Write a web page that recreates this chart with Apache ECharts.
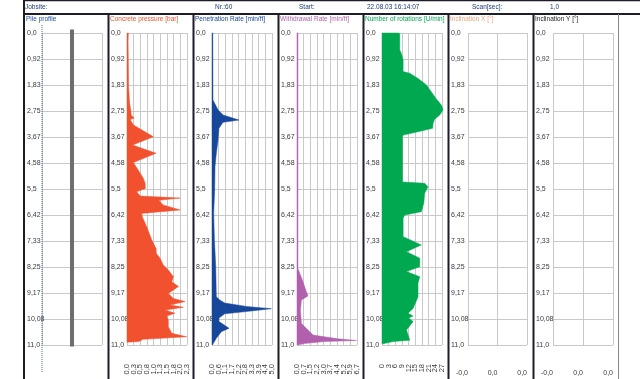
<!DOCTYPE html>
<html><head><meta charset="utf-8">
<script src="https://cdn.jsdelivr.net/npm/echarts@6/dist/echarts.min.js"></script>
<style>html,body{margin:0;padding:0;background:#fff}#c{width:640px;height:379px}</style>
</head><body><div id="c"></div><script>
// ---------- data ----------
const depthTicks = ['0,0','0,92','1,83','2,75','3,67','4,58','5,5','6,42','7,33','8,25','9,17','10,08','11,0'];
const panelTitles = ['Pile profile','Concrete pressure [bar]','Penetration Rate [min/ft]','Withdrawal Rate [min/ft]','Number of rotations [U/min]','Inclination X [°]','Inclination Y [°]'];
const headerLabels = ['Jobsite:','Nr.:60','Start:','22.08.03 16:14:07','Scan[sec]:','1,0'];

const concreteTicks = ['0,0','0,3','0,5','0,8','1,0','1,3','1,5','1,8','2,0','2,3'];
const penetrationTicks = ['0,0','0,6','1,1','1,7','2,2','2,8','3,3','3,9','4,4','5,0'];
const withdrawalTicks = ['0,0','0,7','1,5','2,2','3,0','3,7','4,4','5,2','5,9','6,7'];
const rotationTicks = ['0','3','6','9','12','15','18','21','24','27'];
const inclinationTicks = ['-0,0','0,0','0,0'];

const pileX = [1, 1];
const pileDepth = [-0.12, 11.05];

const concreteDepth = [0.0,0.3,1.0,1.9,2.5,2.71,2.9,3.0,3.05,3.24,3.66,3.95,4.24,4.57,4.8,5.1,5.3,5.48,5.6,5.75,5.82,5.9,6.06,6.24,6.36,6.5,6.83,7.1,7.3,7.6,7.77,7.94,8.18,8.36,8.59,8.77,8.94,9.06,9.18,9.36,9.47,9.59,9.67,9.77,9.88,9.98,10.12,10.36,10.59,10.71,10.8,10.88,10.9];
const concreteValue = [0.05,0.04,0.05,0.06,0.1,0.14,0.16,0.27,0.12,0.24,0.99,0.21,1.09,0.24,0.4,0.6,0.68,0.69,0.36,0.5,1.99,1.2,1.35,1.99,0.55,0.58,0.74,0.85,0.93,1.09,1.1,1.24,1.36,1.55,1.74,1.68,1.93,1.74,1.55,1.74,2.18,1.61,2.11,1.43,1.8,1.49,1.55,1.55,1.68,2.24,0.6,0.45,0.0];

const penetrationDepth = [0.0,2.36,2.48,2.71,2.89,3.07,3.15,3.36,3.77,4.24,4.71,5.54,6.36,7.3,8.24,9.3,9.41,9.52,9.64,9.72,9.82,9.9,10.05,10.17,10.41,10.53,10.76,11.0];
const penetrationValue = [0.06,0.08,0.22,0.5,0.92,2.25,0.92,0.58,0.5,0.36,0.25,0.22,0.14,0.2,0.31,0.36,0.64,1.06,2.86,4.95,2.86,1.06,0.58,0.58,1.42,0.78,0.36,0.03];

const withdrawalDepth = [0.0,8.3,8.47,8.71,9.06,9.27,9.41,9.77,10.24,10.47,10.65,10.78,10.84,10.88,10.95,11.0];
const withdrawalValue = [0.1,0.1,0.3,0.6,0.97,1.22,0.49,0.38,0.49,1.22,1.78,4.5,6.6,3.0,0.8,0.1];

const rotationDepth = [0.0,0.02,0.6,0.72,0.95,1.36,1.42,1.6,1.83,2.0,2.3,2.54,2.71,2.89,3.04,3.18,3.36,3.48,3.6,3.65,5.25,5.3,5.42,5.65,6.0,6.3,6.42,6.53,7.18,7.47,7.71,7.94,8.24,8.41,8.59,8.82,9.3,9.71,9.88,9.98,10.05,10.17,10.47,10.83,10.88,10.96];
const rotationValue = [7.2,8.0,8.0,8.7,9.5,9.5,12.5,16.2,20,21.5,24.2,26.7,27.5,26,23.7,23,22.8,16.2,9.5,9.2,9.2,19.2,20.7,19.2,18.8,17.7,10.2,9.5,9.5,17.7,11,17,17,11,17,16.2,16.2,14,11.7,14,12,14,11,12.5,5,0.5];

// ---------- styling / layout ----------
const GRID = '#c9c9c9';
const LABEL = '#3a3a3a';
const FONT = '"Liberation Sans", Arial, sans-serif';
const colors = {
  pileTitle:'#1f4ea0', concrete:'#f2512f', penetration:'#17479b', withdrawal:'#b25fae',
  rotations:'#00a84f', inclX:'#f5a27c', inclY:'#222222', header:'#1b3b7a'
};
const titleColors = [colors.pileTitle, colors.concrete, colors.penetration, colors.withdrawal, colors.rotations, colors.inclX, colors.inclY];
const borders = [24, 108.5, 193.5, 278.5, 363.5, 448.5, 533.5];
const gridLefts = [42, 127, 212, 297, 382, 468, 553];
const gridWidths = [60, 60, 60, 60, 60, 59, 60];
const TOP = 33, HEIGHT = 312;
const DMAX = 11, DINT = 11/12;

const axisDefs = [
  {min:0, max:2, interval:1, ticks:null},
  {min:0, max:2.25, interval:0.25, ticks:concreteTicks},
  {min:0, max:5, interval:5/9, ticks:penetrationTicks},
  {min:0, max:20/3, interval:20/27, ticks:withdrawalTicks},
  {min:0, max:27, interval:3, ticks:rotationTicks},
  {min:-0.02, max:0.02, interval:0.02, ticks:inclinationTicks, flat:true},
  {min:-0.02, max:0.02, interval:0.02, ticks:inclinationTicks, flat:true}
];

const grids = [], xAxes = [], yAxes = [];
for (let i = 0; i < 7; i++) {
  grids.push({left: gridLefts[i], top: TOP, width: gridWidths[i], height: HEIGHT});
  const a = axisDefs[i];
  let lab;
  if (a.ticks && a.flat) lab = {show:true, rotate:0, align:'right', verticalAlign:'middle', margin:28, fontSize:7, color:LABEL, fontFamily:FONT,
      showMinLabel:true, showMaxLabel:true, hideOverlap:false,
      formatter: (v) => a.ticks[Math.round((v - a.min) / a.interval)] };
  else lab = {show:false};   // rotated labels are drawn below at the axis tick positions
  xAxes.push({gridIndex:i, type:'value', position:'bottom', min:a.min, max:a.max, interval:a.interval,
    axisLine:{show:false}, axisTick:{show:true, inside:false, length:18, lineStyle:{color:GRID}},
    splitLine:{show:true, lineStyle:{color:GRID, width:1}}, axisLabel:lab});
  yAxes.push({gridIndex:i, type:'value', inverse:true, min:0, max:DMAX, interval:DINT,
    axisLine:{show:false}, axisTick:{show:false},
    splitLine:{show:true, lineStyle:{color:GRID, width:1}},
    axisLabel:{show:true, align:'left', margin: gridLefts[i] - (Math.floor(borders[i]) + 3), fontSize:7, color:LABEL, fontFamily:FONT,
      showMinLabel:true, showMaxLabel:true, hideOverlap:false,
      formatter:(v) => depthTicks[Math.round(v / DINT)]}});
}

function fillSeries(i, depth, value, color) {
  return {type:'custom', xAxisIndex:i, yAxisIndex:i, silent:true, clip:false, data:[[0,0]],
    renderItem: function(params, api) {
      const pts = [api.coord([0, depth[0]])];
      for (let k = 0; k < depth.length; k++) pts.push(api.coord([value[k], depth[k]]));
      pts.push(api.coord([0, depth[depth.length - 1]]));
      return {type:'polygon', shape:{points:pts}, style:{fill:color, stroke:color, lineWidth:0.5}};
    }};
}

const series = [
  {type:'line', xAxisIndex:0, yAxisIndex:0, silent:true, clip:false, symbol:'none',
   data: pileDepth.map((d, k) => [pileX[k], d]), lineStyle:{color:'#6e6e6e', width:4}},
  fillSeries(1, concreteDepth, concreteValue, colors.concrete),
  fillSeries(2, penetrationDepth, penetrationValue, colors.penetration),
  fillSeries(3, withdrawalDepth, withdrawalValue, colors.withdrawal),
  fillSeries(4, rotationDepth, rotationValue, colors.rotations)
];

// graphics: frame, header and titles (text)
const graphics = [];
const FRAME = '#1c1c2a';
graphics.push({type:'line', shape:{x1:24, y1:0.5, x2:640, y2:0.5}, style:{stroke:FRAME, lineWidth:1.5}});
graphics.push({type:'line', shape:{x1:24, y1:14, x2:640, y2:14}, style:{stroke:FRAME, lineWidth:2}});
graphics.push({type:'line', shape:{x1:24, y1:0, x2:24, y2:379}, style:{stroke:FRAME, lineWidth:2}});
for (let i = 1; i < 7; i++) graphics.push({type:'line', shape:{x1:borders[i], y1:14, x2:borders[i], y2:379}, style:{stroke:FRAME, lineWidth:2}});
graphics.push({type:'line', shape:{x1:618.5, y1:14, x2:618.5, y2:379}, style:{stroke:'#888', lineWidth:1}});
// pile axis dotted line
graphics.push({type:'line', shape:{x1:42, y1:25, x2:42, y2:372}, style:{stroke:'#3a6cc0', lineWidth:1, lineDash:[1,1]}, z:10});

const headerX = [25, 215, 299, 367, 472, 550];
headerLabels.forEach((t, k) => graphics.push({type:'text', x:headerX[k], y:7,
  style:{text:t, fill:colors.header, font:'6.5px ' + FONT, verticalAlign:'middle'}}));
panelTitles.forEach((t, k) => graphics.push({type:'text', x:Math.floor(borders[k]) + 2, y:19,
  style:{text:t, fill:titleColors[k], font:'6.5px ' + FONT, verticalAlign:'middle'}}));

const chart = echarts.init(document.getElementById('c'), null, {renderer:'canvas'});
chart.setOption({animation:false, backgroundColor:'#fff', grid:grids, xAxis:xAxes, yAxis:yAxes, series:series, graphic:graphics});

// rotated bottom tick labels, placed at the axis tick positions through the library's scales
const labelGraphics = graphics.slice();
for (let i = 0; i < 7; i++) {
  const a = axisDefs[i];
  if (!a.ticks || a.flat) continue;
  const yBottom = chart.convertToPixel({yAxisIndex:i}, DMAX);
  a.ticks.forEach((t, k) => {
    const x = chart.convertToPixel({xAxisIndex:i}, a.min + k * a.interval);
    labelGraphics.push({type:'text', x:x, y:yBottom + 19, rotation:Math.PI / 2, silent:true,
      style:{text:t, fill:LABEL, font:'7.5px ' + FONT, align:'right', verticalAlign:'middle'}});
  });
}
chart.setOption({graphic:labelGraphics});
</script></body></html>
